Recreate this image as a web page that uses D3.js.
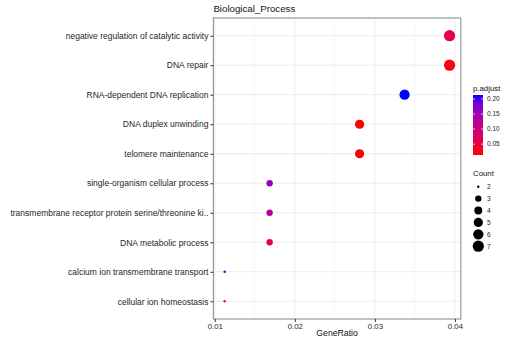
<!DOCTYPE html>
<html><head><meta charset="utf-8">
<script src="https://cdn.jsdelivr.net/npm/d3@7"></script>
<style>body{margin:0;background:#fff}svg{display:block;font-family:"Liberation Sans",Arial,sans-serif}</style>
</head><body><svg id="c" width="508" height="339"></svg>
<script>
const categories = ["negative regulation of catalytic activity","DNA repair","RNA-dependent DNA replication","DNA duplex unwinding","telomere maintenance","single-organism cellular process","transmembrane receptor protein serine/threonine ki..","DNA metabolic process","calcium ion transmembrane transport","cellular ion homeostasis"];
const geneRatio = [7/178,7/178,6/178,5/178,5/178,3/178,3/178,3/178,2/178,2/178];
const counts = [7,7,6,5,5,3,3,3,2,2];
const pAdjust = [0.056,0.020,0.213,0.014,0.016,0.160,0.128,0.062,0.205,0.085];
const xTicks = [0.01,0.02,0.03,0.04];
const colorTicks = [0.05,0.10,0.15,0.20];
const sizeTicks = [2,3,4,5,6,7];

const svg = d3.select("#c");
const L=213.4, R=460.8, T=18, B=319;
const xmin=d3.min(geneRatio), xmax=d3.max(geneRatio), xe=(xmax-xmin)*0.05;
const x = d3.scaleLinear().domain([xmin-xe,xmax+xe]).range([L,R]);
const y = d3.scalePoint().domain(categories).range([T,B]).padding(0.6);
const pmin=d3.min(pAdjust), pmax=d3.max(pAdjust);
const col = d3.scaleLinear().domain([pmin,pmax]).range(["red","blue"]).interpolate(d3.interpolateLab);
const cmin=d3.min(counts), cmax=d3.max(counts);
const sz = c => d3.scaleSqrt().domain([0,cmax-cmin]).range([1.2,5.6])(c-cmin);

// grid
const g = svg.append("g");
const minor = [];
for(let i=0;i<xTicks.length-1;i++) minor.push((xTicks[i]+xTicks[i+1])/2);
g.selectAll(".mn").data(minor).join("line").attr("x1",d=>x(d)).attr("x2",d=>x(d)).attr("y1",T).attr("y2",B).attr("stroke","#f4f4f4").attr("stroke-width",0.6);
g.selectAll(".gx").data(xTicks).join("line").attr("x1",d=>x(d)).attr("x2",d=>x(d)).attr("y1",T).attr("y2",B).attr("stroke","#ebebeb").attr("stroke-width",1);
g.selectAll(".gy").data(categories).join("line").attr("x1",L).attr("x2",R).attr("y1",d=>y(d)).attr("y2",d=>y(d)).attr("stroke","#ebebeb").attr("stroke-width",1);

// points
const data = categories.map((c,i)=>({c,x:geneRatio[i],n:counts[i],p:pAdjust[i]}));
svg.selectAll(".pt").data(data).join("circle").attr("cx",d=>x(d.x)).attr("cy",d=>y(d.c)).attr("r",d=>sz(d.n)).attr("fill",d=>col(d.p));

// border
svg.append("rect").attr("x",L).attr("y",T).attr("width",R-L).attr("height",B-T).attr("fill","none").attr("stroke","#999").attr("stroke-width",1.2);

// axes
const ya = svg.append("g").attr("transform",`translate(${L},0)`).call(d3.axisLeft(y).tickSize(3).tickPadding(2));
ya.select(".domain").remove();
ya.selectAll("line").attr("stroke","#333");
ya.selectAll("text").attr("font-size",8.5).attr("fill","#262626").attr("font-family","Liberation Sans, Arial, sans-serif");
const xa = svg.append("g").attr("transform",`translate(0,${B})`).call(d3.axisBottom(x).tickValues(xTicks).tickFormat(d3.format(".2f")).tickSize(3).tickPadding(1));
xa.select(".domain").remove();
xa.selectAll("line").attr("stroke","#333");
xa.selectAll("text").attr("font-size",7.8).attr("fill","#262626").attr("font-family","Liberation Sans, Arial, sans-serif");

svg.append("text").attr("x",(L+R)/2).attr("y",335.5).attr("text-anchor","middle").attr("font-size",8.7).attr("fill","#111").text("GeneRatio");
svg.append("text").attr("x",L).attr("y",12).attr("font-size",9.7).attr("fill","#111").text("Biological_Process");

// color legend
const cbX=473, cbW=10, cbT=95, cbB=155;
const defs=svg.append("defs");
const lg=defs.append("linearGradient").attr("id","grad").attr("x1",0).attr("x2",0).attr("y1",1).attr("y2",0);
d3.range(0,1.001,0.1).forEach(t=>lg.append("stop").attr("offset",t).attr("stop-color",col(pmin+t*(pmax-pmin))));
const cy = d3.scaleLinear().domain([pmin,pmax]).range([cbB,cbT]);
svg.append("text").attr("x",cbX).attr("y",91).attr("font-size",7.8).attr("fill","#111").text("p.adjust");
svg.append("rect").attr("x",cbX).attr("y",cbT).attr("width",cbW).attr("height",cbB-cbT).attr("fill","url(#grad)");
const ct=svg.append("g");
ct.selectAll(".a").data(colorTicks).join("line").attr("x1",cbX).attr("x2",cbX+2).attr("y1",d=>cy(d)).attr("y2",d=>cy(d)).attr("stroke","#fff").attr("stroke-width",0.7);
ct.selectAll(".b").data(colorTicks).join("line").attr("x1",cbX+cbW-2).attr("x2",cbX+cbW).attr("y1",d=>cy(d)).attr("y2",d=>cy(d)).attr("stroke","#fff").attr("stroke-width",0.7);
ct.selectAll("text").data(colorTicks).join("text").attr("x",cbX+cbW+4).attr("y",d=>cy(d)+2.3).attr("font-size",6.5).attr("fill","#222").text(d=>d3.format(".2f")(d));

// size legend
svg.append("text").attr("x",473).attr("y",176).attr("font-size",7.8).attr("fill","#111").text("Count");
const sl=svg.append("g");
sl.selectAll("circle").data(sizeTicks).join("circle").attr("cx",478.3).attr("cy",(d,i)=>186.7+i*11.9).attr("r",d=>sz(d)).attr("fill","#000");
sl.selectAll("text").data(sizeTicks).join("text").attr("x",487).attr("y",(d,i)=>186.7+i*11.9+2.3).attr("font-size",6.5).attr("fill","#222").text(d=>d);
</script></body></html>
